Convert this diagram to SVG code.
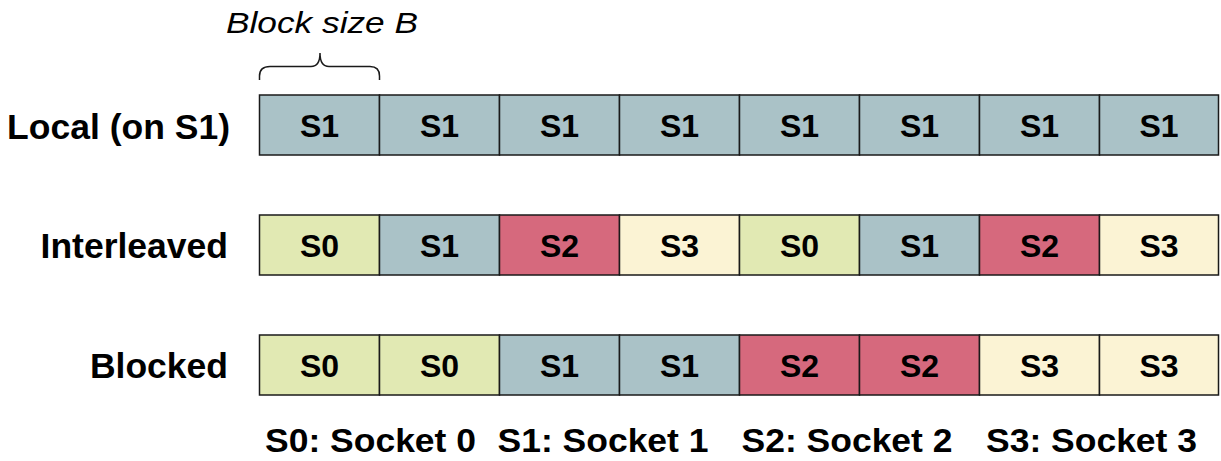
<svg xmlns="http://www.w3.org/2000/svg" width="1221" height="461" viewBox="0 0 1221 461">
<style>
.c{stroke:#1a1a1a;stroke-width:1.5}
.s0{fill:#e1e9b3}.s1{fill:#aac2c7}.s2{fill:#d6697d}.s3{fill:#fbf3d4}
.t{font-family:"Liberation Sans",Arial,sans-serif;font-weight:bold;font-size:32px;text-anchor:middle;fill:#000}
.lbl{font-family:"Liberation Sans",Arial,sans-serif;font-weight:bold;font-size:35.5px;text-anchor:end;fill:#000}
.leg{font-family:"Liberation Sans",Arial,sans-serif;font-weight:bold;font-size:33px;fill:#000}
</style>
<rect width="1221" height="461" fill="#fff"/>
<g id="block-size">
<text x="226" y="33" font-family="Liberation Sans, Arial, sans-serif" font-style="italic" font-size="30" textLength="192" lengthAdjust="spacingAndGlyphs">Block size B</text>
<path d="M259.5,80 L259.5,76 Q259.5,66.5 270,66.5 L311,66.5 Q320,66.5 320,53 Q320,66.5 329,66.5 L370,66.5 Q379.5,66.5 379.5,76 L379.5,80" fill="none" stroke="#1a1a1a" stroke-width="1.5"/>
</g>
<g id="labels">
<text class="lbl" x="230" y="139">Local (on S1)</text>
<text class="lbl" x="228" y="258">Interleaved</text>
<text class="lbl" x="228" y="378">Blocked</text>
</g>
<g id="row-local">
<rect class="c s1" x="259.5" y="95" width="120" height="60"/>
<rect class="c s1" x="379.5" y="95" width="120" height="60"/>
<rect class="c s1" x="499.5" y="95" width="120" height="60"/>
<rect class="c s1" x="619.5" y="95" width="120" height="60"/>
<rect class="c s1" x="739.5" y="95" width="120" height="60"/>
<rect class="c s1" x="859.5" y="95" width="120" height="60"/>
<rect class="c s1" x="979.5" y="95" width="120" height="60"/>
<rect class="c s1" x="1099.5" y="95" width="119" height="60"/>
<text class="t" x="319.5" y="137">S1</text>
<text class="t" x="439.5" y="137">S1</text>
<text class="t" x="559.5" y="137">S1</text>
<text class="t" x="679.5" y="137">S1</text>
<text class="t" x="799.5" y="137">S1</text>
<text class="t" x="919.5" y="137">S1</text>
<text class="t" x="1039.5" y="137">S1</text>
<text class="t" x="1159" y="137">S1</text>
</g>
<g id="row-interleaved">
<rect class="c s0" x="259.5" y="215" width="120" height="60"/>
<rect class="c s1" x="379.5" y="215" width="120" height="60"/>
<rect class="c s2" x="499.5" y="215" width="120" height="60"/>
<rect class="c s3" x="619.5" y="215" width="120" height="60"/>
<rect class="c s0" x="739.5" y="215" width="120" height="60"/>
<rect class="c s1" x="859.5" y="215" width="120" height="60"/>
<rect class="c s2" x="979.5" y="215" width="120" height="60"/>
<rect class="c s3" x="1099.5" y="215" width="119" height="60"/>
<text class="t" x="319.5" y="257">S0</text>
<text class="t" x="439.5" y="257">S1</text>
<text class="t" x="559.5" y="257">S2</text>
<text class="t" x="679.5" y="257">S3</text>
<text class="t" x="799.5" y="257">S0</text>
<text class="t" x="919.5" y="257">S1</text>
<text class="t" x="1039.5" y="257">S2</text>
<text class="t" x="1159" y="257">S3</text>
</g>
<g id="row-blocked">
<rect class="c s0" x="259.5" y="335" width="120" height="60"/>
<rect class="c s0" x="379.5" y="335" width="120" height="60"/>
<rect class="c s1" x="499.5" y="335" width="120" height="60"/>
<rect class="c s1" x="619.5" y="335" width="120" height="60"/>
<rect class="c s2" x="739.5" y="335" width="120" height="60"/>
<rect class="c s2" x="859.5" y="335" width="120" height="60"/>
<rect class="c s3" x="979.5" y="335" width="120" height="60"/>
<rect class="c s3" x="1099.5" y="335" width="119" height="60"/>
<text class="t" x="319.5" y="377">S0</text>
<text class="t" x="439.5" y="377">S0</text>
<text class="t" x="559.5" y="377">S1</text>
<text class="t" x="679.5" y="377">S1</text>
<text class="t" x="799.5" y="377">S2</text>
<text class="t" x="919.5" y="377">S2</text>
<text class="t" x="1039.5" y="377">S3</text>
<text class="t" x="1159" y="377">S3</text>
</g>
<g id="legend">
<text class="leg" x="265" y="452" textLength="211" lengthAdjust="spacingAndGlyphs">S0: Socket 0</text>
<text class="leg" x="497.5" y="452" textLength="211" lengthAdjust="spacingAndGlyphs">S1: Socket 1</text>
<text class="leg" x="741.5" y="452" textLength="211" lengthAdjust="spacingAndGlyphs">S2: Socket 2</text>
<text class="leg" x="986" y="452" textLength="211" lengthAdjust="spacingAndGlyphs">S3: Socket 3</text>
</g>
<g id="connectors"></g>
</svg>
